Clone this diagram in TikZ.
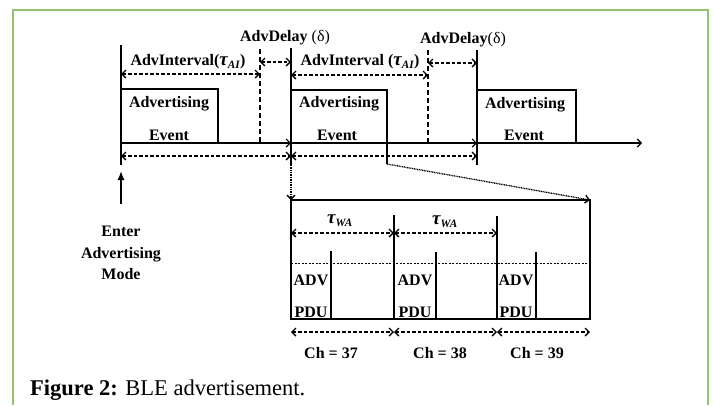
\documentclass[tikz,border=0pt]{standalone}
\usepackage{fontspec}
\setmainfont{Liberation Serif}
\usetikzlibrary{arrows.meta}
\definecolor{framegreen}{RGB}{146,196,110}

\tikzset{
	lbl/.style={font=\fontsize{16}{18}\selectfont\bfseries, inner sep=0pt},
	bar/.style={line width=1.2pt},
	dim/.style={line width=1.4pt, dash pattern=on 3.5pt off 2pt,
		{Straight Barb[length=4pt,width=8pt]}-{Straight Barb[length=4pt,width=8pt]}},
	tick/.style={line width=1.2pt, dash pattern=on 5pt off 3pt},
	axis/.style={line width=1.2pt, -{Straight Barb[length=4pt,width=8pt]}},
	zoomline/.style={line width=1.3pt, dash pattern=on 1pt off 0.7pt, -{Straight Barb[length=4pt,width=8pt]}}
}
\newcommand{\tauof}[1]{{\fontsize{19}{18}\selectfont\itshape τ}\textsubscript{\itshape #1}}

\begin{document}
\begin{tikzpicture}[x=1pt, y=-1pt]
	\useasboundingbox (0,0) rectangle (713,405);
	\draw[framegreen, line width=2pt] (13,405) -- (13,10) -- (708,10) -- (708,405);

	\coordinate (s0) at (121,143);
	\coordinate (s1) at (291,143);
	\coordinate (s2) at (477,143);
	\coordinate (send) at (642,143);
	\coordinate (g0) at (260,143);
	\coordinate (g1) at (428,143);

	\node[lbl] (delay1) at (285,38) {AdvDelay {\mdseries(δ)}};
	\node[lbl] (delay2) at (463,40) {AdvDelay{\mdseries(δ)}};
	\node[lbl] (int1) at (188,62) {AdvInterval(\tauof{AI})};
	\node[lbl] (int2) at (360,62) {AdvInterval (\tauof{AI})};
	\node[lbl] (adv1) at (169,104) {Advertising};
	\node[lbl] (ev1) at (169,135) {Event};
	\node[lbl] (adv2) at (339,104) {Advertising};
	\node[lbl] (ev2) at (337,135) {Event};
	\node[lbl] (adv3) at (525,105) {Advertising};
	\node[lbl] (ev3) at (524,135) {Event};
	\node[lbl, align=center, font=\fontsize{16}{21.5}\selectfont\bfseries] (mode) at (121,253) {Enter\\Advertising\\Mode};

	\draw[bar] (121,45) -- (121,165);
	\draw[bar] (291,48) -- (291,165);
	\draw[bar] (477,50) -- (477,165);
	\draw[tick] (260,49) -- (g0);
	\draw[tick] (428,50) -- (g1);
	\draw[bar] (121,89) -- (218,89) -- (218,143);
	\draw[bar] (291,90) -- (387,90) -- (387,164);
	\draw[bar] (477,90) -- (576,90) -- (576,143);

	\draw[axis] (s0) -- (s1);
	\draw[axis] (s1) -- (s2);
	\draw[axis] (s2) -- (send);
	\draw[dim] (s0 |- 0,74) -- (g0 |- 0,74);
	\draw[dim] (g0 |- 0,62) -- (s1 |- 0,62);
	\draw[dim] (s1 |- 0,75) -- (g1 |- 0,75);
	\draw[dim] (g1 |- 0,63) -- (s2 |- 0,63);
	\draw[dim] (s0 |- 0,156) -- (s1 |- 0,156);
	\draw[dim] (s1 |- 0,156) -- (s2 |- 0,156);

	\draw[line width=1.4pt, -{Latex[length=9pt,width=7pt]}] (121,204) -- (121,171);

	\coordinate (w0) at (291,200);
	\coordinate (w3) at (590,200);
	\draw[zoomline] (291,165) -- (w0);
	\draw[zoomline] (387,164) -- (w3);
	\draw[bar] (w0) -- (291,319) -- (590,319) -- (w3) -- cycle;
	\draw[line width=0.7pt, dash pattern=on 2pt off 1.5pt] (291,263) -- (590,263);
	\draw[bar] (394,215) -- (394,319);
	\draw[bar] (497,216) -- (497,319);
	\draw[bar] (331,251) -- (331,319);
	\draw[bar] (436,252) -- (436,319);
	\draw[bar] (536,252) -- (536,319);

	\node[lbl] (twa1) at (340,221) {\tauof{WA}};
	\node[lbl] (twa2) at (445,222) {\tauof{WA}};
	\draw[dim] (291,233) -- (394,233);
	\draw[dim] (394,233) -- (497,233);

	\node[lbl] (adv4) at (311,280) {ADV};
	\node[lbl] (pdu4) at (311,312) {PDU};
	\node[lbl] (adv5) at (415,280) {ADV};
	\node[lbl] (pdu5) at (415,312) {PDU};
	\node[lbl] (adv6) at (516,280) {ADV};
	\node[lbl] (pdu6) at (516,312) {PDU};

	\draw[dim] (291,332) -- (394,332);
	\draw[dim] (394,332) -- (497,332);
	\draw[dim] (497,332) -- (590,332);
	\node[lbl] (ch37) at (331,353) {Ch = 37};
	\node[lbl] (ch38) at (440,353) {Ch = 38};
	\node[lbl] (ch39) at (537,353) {Ch = 39};

	\node[anchor=base west, inner sep=0pt, font=\fontsize{22.5}{26}\selectfont] (cap) at (30,395) {\textbf{Figure 2:} BLE advertisement.};
\end{tikzpicture}
\end{document}
